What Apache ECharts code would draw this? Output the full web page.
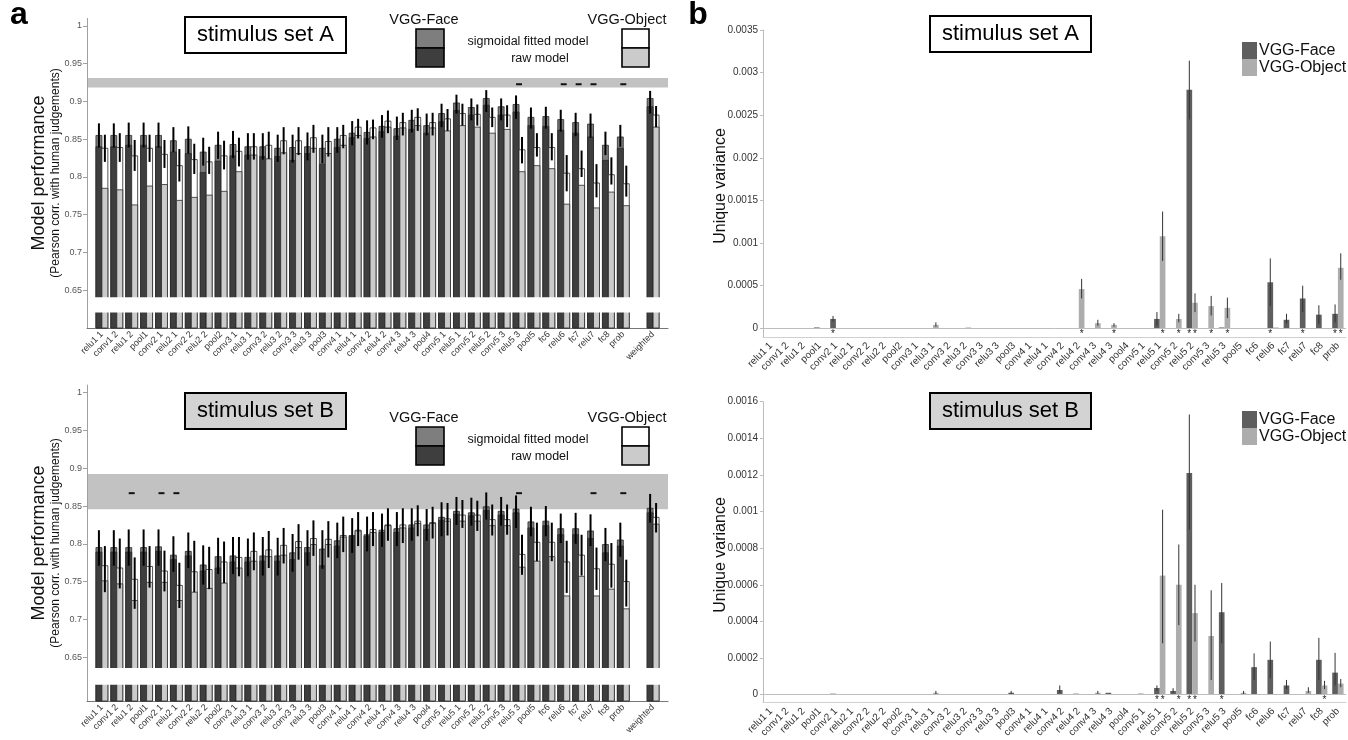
<!DOCTYPE html>
<html><head><meta charset="utf-8">
<script src="https://cdn.jsdelivr.net/npm/echarts@6/dist/echarts.min.js"></script>
<style>html,body{margin:0;padding:0;background:#fff}#c{width:1348px;height:740px}</style>
</head><body><div id="c"></div>
<script>
const N = null;
const layers = ['relu1 1','conv1 2','relu1 2','pool1','conv2 1','relu2 1','conv2 2','relu2 2','pool2','conv3 1','relu3 1','conv3 2','relu3 2','conv3 3','relu3 3','pool3','conv4 1','relu4 1','conv4 2','relu4 2','conv4 3','relu4 3','pool4','conv5 1','relu5 1','conv5 2','relu5 2','conv5 3','relu5 3','pool5','fc6','relu6','fc7','relu7','fc8','prob'];
const perfCategories = layers.concat(['', 'weighted']);
const perfTicks = [0.65, 0.7, 0.75, 0.8, 0.85, 0.9, 0.95, 1];
const uvTicksA = [0, 0.0005, 0.001, 0.0015, 0.002, 0.0025, 0.003, 0.0035];
const uvTicksB = [0, 0.0002, 0.0004, 0.0006, 0.0008, 0.001, 0.0012, 0.0014, 0.0016];

// ---- panel a, stimulus set A (model performance) ----
const faceFitA = [0.855,0.855,0.855,0.855,0.855, 0.848,0.850,0.833,0.842,0.843, 0.840,0.840,0.838,0.839,0.840, 0.838,0.850,0.858,0.859,0.867, 0.864,0.875,0.868,0.884,0.898, 0.892,0.904,0.893,0.896,0.879, 0.880,0.876,0.872,0.870,0.842, 0.853,N,0.904];
const faceRawA = [0.840,0.840,0.842,0.842,0.840, 0.833,0.831,0.806,0.821,0.828, 0.829,0.827,0.827,0.822,0.831, 0.817,0.839,0.852,0.851,0.860, 0.854,0.863,0.858,0.873,0.888, 0.882,0.895,0.882,0.886,0.868, 0.867,0.862,0.858,0.853,0.822, 0.838,N,0.893];
const faceLoA  = [0.839,0.839,0.839,0.839,0.839, 0.833,0.831,0.815,0.824,0.825, 0.823,0.823,0.820,0.819,0.822, 0.818,0.832,0.842,0.843,0.852, 0.849,0.859,0.855,0.866,0.884, 0.875,0.886,0.875,0.877,0.864, 0.864,0.860,0.854,0.852,0.829, 0.840,N,0.884];
const faceHiA  = [0.871,0.871,0.872,0.872,0.872, 0.866,0.867,0.852,0.860,0.861, 0.858,0.858,0.856,0.856,0.859, 0.856,0.866,0.874,0.875,0.882, 0.880,0.889,0.884,0.897,0.909, 0.904,0.915,0.904,0.908,0.892, 0.893,0.889,0.885,0.884,0.860, 0.869,N,0.914];
const objFitA  = [0.838,0.839,0.828,0.838,0.830, 0.815,0.823,0.820,0.828,0.834, 0.840,0.842,0.848,0.848,0.852, 0.847,0.855,0.866,0.865,0.874, 0.872,0.879,0.872,0.877,0.884, 0.883,0.879,0.882,0.836,0.839, 0.839,0.805,0.811,0.792,0.803, 0.791,N,0.882];
const objRawA  = [0.785,0.783,0.763,0.788,0.790, 0.769,0.773,0.776,0.781,0.807, 0.829,0.824,0.832,0.831,0.838, 0.831,0.842,0.855,0.853,0.866, 0.865,0.868,0.865,0.861,0.868, 0.866,0.858,0.863,0.807,0.815, 0.811,0.764,0.789,0.759,0.780, 0.762,N,0.866];
const objLoA   = [0.820,0.820,0.808,0.820,0.812, 0.794,0.804,0.804,0.810,0.814, 0.823,0.824,0.830,0.829,0.832, 0.827,0.838,0.851,0.850,0.858, 0.855,0.861,0.855,0.861,0.868, 0.868,0.866,0.866,0.818,0.827, 0.822,0.781,0.800,0.773,0.790, 0.774,N,0.866];
const objHiA   = [0.856,0.858,0.849,0.856,0.849, 0.837,0.844,0.840,0.848,0.852, 0.858,0.860,0.866,0.866,0.869, 0.866,0.869,0.877,0.876,0.888, 0.885,0.891,0.885,0.890,0.897, 0.896,0.892,0.895,0.853,0.858, 0.858,0.829,0.835,0.817,0.826, 0.815,N,0.894];
const ceilingA = [0.9185, 0.931];
const dashIdxA = [28, 31, 32, 33, 35];
const dashValA = 0.9228;

// ---- panel a, stimulus set B ----
const faceFitB = [0.795,0.795,0.795,0.795,0.796, 0.785,0.790,0.772,0.783,0.784, 0.782,0.784,0.784,0.788,0.795, 0.793,0.804,0.811,0.812,0.818, 0.820,0.825,0.825,0.835,0.843, 0.841,0.849,0.843,0.846,0.829, 0.830,0.820,0.820,0.817,0.799, 0.805,N,0.847];
const faceRawB = [0.789,0.789,0.789,0.789,0.790, 0.779,0.784,0.764,0.768,0.776, 0.776,0.777,0.777,0.779,0.788, 0.771,0.797,0.810,0.810,0.815, 0.815,0.821,0.819,0.831,0.839, 0.837,0.844,0.838,0.841,0.821, 0.824,0.812,0.812,0.807,0.788, 0.797,N,0.841];
const faceLoB  = [0.771,0.771,0.771,0.771,0.771, 0.763,0.768,0.746,0.760,0.760, 0.757,0.758,0.758,0.763,0.771, 0.767,0.781,0.788,0.790,0.796, 0.797,0.804,0.804,0.810,0.825, 0.824,0.832,0.824,0.821,0.810, 0.810,0.801,0.800,0.797,0.777, 0.783,N,0.828];
const faceHiB  = [0.818,0.818,0.819,0.819,0.819, 0.810,0.815,0.798,0.808,0.809, 0.807,0.809,0.808,0.813,0.818, 0.818,0.828,0.834,0.836,0.840, 0.842,0.847,0.846,0.855,0.862, 0.861,0.868,0.862,0.864,0.849, 0.850,0.840,0.841,0.839,0.821, 0.828,N,0.866];
const objFitB  = [0.771,0.768,0.753,0.770,0.764, 0.745,0.763,0.766,0.776,0.782, 0.790,0.792,0.798,0.803,0.807, 0.806,0.811,0.818,0.819,0.825, 0.825,0.830,0.828,0.833,0.838, 0.838,0.832,0.832,0.786,0.802, 0.802,0.776,0.785,0.767,0.773, 0.750,N,0.835];
const objRawB  = [0.751,0.747,0.725,0.749,0.749, 0.725,0.736,0.741,0.748,0.768, 0.777,0.783,0.785,0.795,0.799, 0.799,0.809,0.817,0.815,0.824, 0.821,0.827,0.827,0.830,0.830, 0.830,0.824,0.824,0.769,0.777, 0.783,0.731,0.757,0.731,0.740, 0.714,N,0.826];
const objLoB   = [0.736,0.741,0.714,0.742,0.737, 0.715,0.736,0.740,0.748,0.757, 0.765,0.768,0.774,0.779,0.784, 0.782,0.789,0.797,0.797,0.804, 0.801,0.810,0.807,0.811,0.821, 0.817,0.811,0.812,0.759,0.777, 0.777,0.735,0.758,0.739,0.742, 0.717,N,0.815];
const objHiB   = [0.797,0.807,0.782,0.797,0.791, 0.775,0.804,0.796,0.803,0.809, 0.815,0.817,0.821,0.826,0.831, 0.830,0.836,0.842,0.842,0.847, 0.847,0.851,0.849,0.854,0.858, 0.857,0.852,0.852,0.812,0.828, 0.828,0.804,0.812,0.795,0.801, 0.779,N,0.854];
const ceilingB = [0.8457, 0.8925];
const dashIdxB = [2, 4, 5, 28, 33, 35];
const dashValB = 0.867;

// ---- panel b, unique variance, set A ----
const faceUvA = [0,0,0,0.00001,0.00011, 0,0,0,0,0, 0,0,0,0,0, 0,0,0,0,0, 0,0,0,0,0.00011, 0,0.0028,0,0.00001,0, 0,0.00054,0.0001,0.00035,0.00016, 0.00017];
const faceUvLoA = [N,N,N,N,0.00008, N,N,N,N,N, N,N,N,N,N, N,N,N,N,N, N,N,N,N,0.00003, N,0.00245,N,N,N, N,0.00026,0.00006,0.00019,0.00005, 0.00007];
const faceUvHiA = [N,N,N,N,0.000145, N,N,N,N,N, N,N,N,N,N, N,N,N,N,N, N,N,N,N,0.00019, N,0.00314,N,N,N, N,0.00082,0.00017,0.0005,0.00027, 0.00028];
const objUvA = [0,0,0,0,0, 0,0,0,0,0, 0.00004,0,0.00001,0,0, 0,0,0,0,0.00046, 0.00006,0.00004,0,0,0.00108, 0.00011,0.0003,0.00026,0.00024,0, 0,0.00001,0,0,0, 0.00071];
const objUvLoA = [N,N,N,N,N, N,N,N,N,N, 0.00002,N,N,N,N, N,N,N,N,0.00035, 0.00003,0.00002,N,N,0.00079, 0.00007,0.00019,0.00015,0.00012,N, N,N,N,N,N, 0.00057];
const objUvHiA = [N,N,N,N,N, N,N,N,N,N, 0.00007,N,N,N,N, N,N,N,N,0.00058, 0.0001,0.00006,N,N,0.00137, 0.00017,0.00041,0.00038,0.00036,N, N,N,N,N,N, 0.00088];
const faceStarsA = [4, 26, 31, 33, 35];
const objStarsA = [19, 21, 24, 25, 26, 27, 28, 35];

// ---- panel b, unique variance, set B ----
const faceUvB = [0,0,0,0,0.000005, 0,0,0,0,0, 0,0,0,0,0, 0.00001,0,0,0.000025,0.000005, 0,0.00001,0,0.000005,0.000036, 0.00002,0.00121,0,0.00045,0, 0.00015,0.00019,0.00005,0,0.00019, 0.00012];
const faceUvLoB = [N,N,N,N,N, N,N,N,N,N, N,N,N,N,N, 0,N,N,0.00001,N, N,N,N,N,0.00002, 0.00001,0.0009,N,0.00028,N, 0.00008,0.00009,0.00003,N,0.00008, 0.00005];
const faceUvHiB = [N,N,N,N,N, N,N,N,N,N, N,N,N,N,N, 0.00002,N,N,0.00005,N, N,N,N,N,0.00005, 0.000035,0.00153,N,0.00061,N, 0.000225,0.00029,0.00008,N,0.00031, 0.000228];
const objUvB = [0,0,0,0,0, 0,0,0,0,0, 0.00001,0,0,0,0, 0,0,0,0,0, 0.00001,0,0,0,0.00065, 0.0006,0.000445,0.00032,0,0.00001, 0.000003,0,0,0.00002,0.00005, 0.00006];
const objUvLoB = [N,N,N,N,N, N,N,N,N,N, 0,N,N,N,N, N,N,N,N,N, 0,N,N,N,0.00028, 0.00038,0.00029,0.00008,N,0, N,N,N,0.00001,0.00003, 0.00004];
const objUvHiB = [N,N,N,N,N, N,N,N,N,N, 0.00002,N,N,N,N, N,N,N,N,N, 0.00002,N,N,N,0.00101, 0.00082,0.0006,0.00057,N,0.00002, N,N,N,0.00004,0.000075, 0.000085];
const faceStarsB = [24, 26, 28];
const objStarsB = [24, 25, 26, 34];

const FONT = '"Liberation Sans", Arial, sans-serif';
const C_FACE_FIT = '#7e7e7e', C_FACE_RAW = '#3e3e3e', C_OBJ_FIT = '#ffffff', C_OBJ_RAW = '#cbcbcb';
const C_UV_FACE = '#5e5e5e', C_UV_OBJ = '#adadad';

function perfData(fit, raw, lo, hi) {
  const out = [];
  fit.forEach((v, i) => { if (v != null) out.push([i, v, raw[i], lo[i], hi[i]]); });
  return out;
}
function perfBarRender(side, fitColor, rawColor) {
  return function (params, api) {
    const i = api.value(0), fit = api.value(1), raw = api.value(2), lo = api.value(3), hi = api.value(4);
    const cs = params.coordSys;
    const base = cs.y + cs.height;
    const w = api.size([1, 0])[0] * 0.4;
    const xc = api.coord([i + side * 0.2, fit])[0];
    const yFit = api.coord([i, fit])[1], yRaw = api.coord([i, raw])[1];
    const yLo = api.coord([i, lo])[1], yHi = api.coord([i, hi])[1];
    return { type: 'group', children: [
      { type: 'rect', shape: { x: xc - w / 2, y: yFit, width: w, height: base - yFit }, style: { fill: fitColor, stroke: '#2a2a2a', lineWidth: 0.8 } },
      { type: 'rect', shape: { x: xc - w / 2, y: yRaw, width: w, height: base - yRaw }, style: { fill: rawColor, stroke: '#2a2a2a', lineWidth: 0.8 } },
      { type: 'line', shape: { x1: xc, y1: yLo, x2: xc, y2: yHi }, style: { stroke: '#000', lineWidth: 2 } }
    ] };
  };
}
function hBandRender(lo, hi, fill, inset) {
  return function (params, api) {
    const cs = params.coordSys;
    const y1 = api.coord([0, hi])[1], y2 = api.coord([0, lo])[1];
    return { type: 'rect', shape: { x: cs.x + inset, y: y1, width: cs.width - inset, height: y2 - y1 }, style: { fill: fill } };
  };
}
function dashRender(params, api) {
  const i = api.value(0), v = api.value(1);
  const p1 = api.coord([i - 0.2, v]), p2 = api.coord([i + 0.2, v]);
  return { type: 'line', shape: { x1: p1[0], y1: p1[1], x2: p2[0], y2: p2[1] }, style: { stroke: '#111', lineWidth: 2 } };
}
function uvErrData(loF, hiF, loO, hiO) {
  const out = [];
  loF.forEach((v, i) => { if (v != null) out.push([i, v, hiF[i], -1]); });
  loO.forEach((v, i) => { if (v != null) out.push([i, v, hiO[i], 1]); });
  return out;
}
function uvErrRender(params, api) {
  const i = api.value(0), lo = api.value(1), hi = api.value(2), side = api.value(3);
  const band = api.size([1, 0])[0];
  const x = api.coord([i, lo])[0] + side * band * 0.175;
  return { type: 'line', shape: { x1: x, y1: api.coord([i, lo])[1], x2: x, y2: api.coord([i, hi])[1] }, style: { stroke: '#333', lineWidth: 1 } };
}
function starData(f, o) { return f.map(i => [i, 0, -1]).concat(o.map(i => [i, 0, 1])); }
function starRender(params, api) {
  const i = api.value(0), side = api.value(2);
  const band = api.size([1, 0])[0];
  const p = api.coord([i, 0]);
  return { type: 'text', x: p[0] + side * band * 0.175, y: p[1] + 1,
    style: { text: '*', fontSize: 10, fontFamily: FONT, fill: '#222', align: 'center', textAlign: 'center', verticalAlign: 'top', textVerticalAlign: 'top' } };
}

function perfX(g) {
  return { type: 'value', gridIndex: g, min: -1, max: 38, interval: 1,
    axisLine: { show: true, onZero: false, lineStyle: { color: '#777', width: 1 } },
    axisTick: { show: false }, splitLine: { show: false },
    axisLabel: { rotate: 45, fontSize: 9, color: '#333', margin: 5, fontFamily: FONT,
      formatter: v => perfCategories[Math.round(v)] || '' } };
}
function perfY(g, min) {
  return { type: 'value', gridIndex: g, min: min, max: 1.01,
    axisLine: { show: true, onZero: false, lineStyle: { color: '#a0a0a0' } },
    axisTick: { show: true, length: 4, customValues: perfTicks, lineStyle: { color: '#a0a0a0' } },
    axisLabel: { customValues: perfTicks, fontSize: 9, color: '#555', margin: 5, fontFamily: FONT, formatter: v => String(v) },
    splitLine: { show: false } };
}
function uvX(g) {
  return { type: 'category', gridIndex: g, data: layers,
    axisLine: { show: true, onZero: false, lineStyle: { color: '#cfcfcf' } },
    axisTick: { show: false }, splitLine: { show: false },
    axisLabel: { interval: 0, rotate: 45, fontSize: 10, color: '#333', margin: 7, fontFamily: FONT } };
}
function uvY(g, min, max, ticks) {
  return { type: 'value', gridIndex: g, min: min, max: max,
    axisLine: { show: true, onZero: false, lineStyle: { color: '#bdbdbd' } },
    axisTick: { show: true, length: 3, customValues: ticks, lineStyle: { color: '#bdbdbd' } },
    axisLabel: { customValues: ticks, fontSize: 10, color: '#333', margin: 5, fontFamily: FONT, formatter: v => String(v) },
    splitLine: { show: false } };
}

function perfSeries(g, fF, fR, fL, fH, oF, oR, oL, oH, ceiling, dashIdx, dashVal, gap) {
  return [
    { type: 'custom', xAxisIndex: g, yAxisIndex: g, z: 1, silent: true, data: [[0, (ceiling[0] + ceiling[1]) / 2]], renderItem: hBandRender(ceiling[0], ceiling[1], '#c2c2c2', 1) },
    { type: 'custom', name: 'VGG-Face perf', xAxisIndex: g, yAxisIndex: g, z: 2, silent: true, data: perfData(fF, fR, fL, fH), renderItem: perfBarRender(-1, C_FACE_FIT, C_FACE_RAW) },
    { type: 'custom', name: 'VGG-Object perf', xAxisIndex: g, yAxisIndex: g, z: 2, silent: true, data: perfData(oF, oR, oL, oH), renderItem: perfBarRender(1, C_OBJ_FIT, C_OBJ_RAW) },
    { type: 'custom', xAxisIndex: g, yAxisIndex: g, z: 3, silent: true, data: [[0, (gap[0] + gap[1]) / 2]], renderItem: hBandRender(gap[0], gap[1], '#ffffff', 1) },
    { type: 'custom', xAxisIndex: g, yAxisIndex: g, z: 4, silent: true, data: dashIdx.map(i => [i, dashVal]), renderItem: dashRender }
  ];
}
function uvSeries(g, fUv, oUv, fLo, fHi, oLo, oHi, fStars, oStars) {
  return [
    { type: 'bar', name: 'VGG-Face', xAxisIndex: g, yAxisIndex: g, data: fUv, barGap: '0%', barCategoryGap: '30%',
      itemStyle: { color: C_UV_FACE }, silent: true,
      markLine: { silent: true, symbol: 'none', label: { show: false }, lineStyle: { color: '#bdbdbd', width: 1, type: 'solid' }, data: [{ yAxis: 0 }] } },
    { type: 'bar', name: 'VGG-Object', xAxisIndex: g, yAxisIndex: g, data: oUv, barGap: '0%', barCategoryGap: '30%',
      itemStyle: { color: C_UV_OBJ }, silent: true },
    { type: 'custom', xAxisIndex: g, yAxisIndex: g, z: 3, silent: true, data: uvErrData(fLo, fHi, oLo, oHi), renderItem: uvErrRender },
    { type: 'custom', xAxisIndex: g, yAxisIndex: g, z: 3, silent: true, data: starData(fStars, oStars), renderItem: starRender }
  ];
}

function txt(x, y, text, size, extra) {
  return Object.assign({ type: 'text', x: x, y: y, silent: true,
    style: { text: text, fontSize: size, fontFamily: FONT, fill: '#111', align: 'center', textAlign: 'center', verticalAlign: 'middle', textVerticalAlign: 'middle' } }, extra || {});
}
function boldTxt(x, y, text) {
  return { type: 'text', x: x, y: y, silent: true,
    style: { text: text, fontSize: 32, fontWeight: 'bold', fontFamily: FONT, fill: '#000', align: 'center', textAlign: 'center', verticalAlign: 'middle', textVerticalAlign: 'middle' } };
}
function boxRect(x, y, w, h, fill) {
  return { type: 'rect', silent: true, shape: { x: x, y: y, width: w, height: h }, style: { fill: fill, stroke: '#000', lineWidth: 1.6 } };
}
function perfLegend(dy) {
  return [
    txt(424, 20 + dy, 'VGG-Face', 14.5),
    boxRect(416, 29 + dy, 28, 19, C_FACE_FIT),
    boxRect(416, 48 + dy, 28, 19, C_FACE_RAW),
    txt(528, 42 + dy, 'sigmoidal fitted model', 12.5),
    txt(540, 59 + dy, 'raw model', 12.5),
    txt(627, 20 + dy, 'VGG-Object', 14.5),
    boxRect(622, 29 + dy, 27, 19, C_OBJ_FIT),
    boxRect(622, 48 + dy, 27, 19, C_OBJ_RAW)
  ];
}

const titleBox = (text, left, top, bg) => ({ text: text, left: left, top: top, padding: [7, 12, 7, 12],
  backgroundColor: bg, borderColor: '#000', borderWidth: 2,
  textStyle: { fontSize: 22, fontWeight: 'normal', color: '#000', fontFamily: FONT } });
const uvLegend = (top) => ({ left: 1237, top: top, orient: 'vertical', icon: 'rect', itemWidth: 15, itemHeight: 17, itemGap: 0,
  selectedMode: false, data: ['VGG-Face', 'VGG-Object'],
  textStyle: { fontSize: 16, color: '#111', fontFamily: FONT, padding: [0, 0, 0, -3] } });

const option = {
  animation: false,
  backgroundColor: '#fff',
  textStyle: { fontFamily: FONT },
  title: [
    titleBox('stimulus set A', 185, 17, '#ffffff'),
    titleBox('stimulus set B', 185, 393, '#d3d3d3'),
    titleBox('stimulus set A', 930, 16, '#ffffff'),
    titleBox('stimulus set B', 930, 393, '#d3d3d3')
  ],
  legend: [uvLegend(37), uvLegend(406)],
  grid: [
    { left: 87, top: 18.4, width: 581, height: 309.6 },
    { left: 87, top: 385.1, width: 581, height: 315.9 },
    { left: 763, top: 30, width: 583, height: 307 },
    { left: 763, top: 401.7, width: 583, height: 301.3 }
  ],
  xAxis: [perfX(0), perfX(1), uvX(2), uvX(3)],
  yAxis: [perfY(0, 0.6), perfY(1, 0.592), uvY(2, -0.000102, 0.0035, uvTicksA), uvY(3, -0.0000436, 0.0016, uvTicksB)],
  series: [].concat(
    perfSeries(0, faceFitA, faceRawA, faceLoA, faceHiA, objFitA, objRawA, objLoA, objHiA, ceilingA, dashIdxA, dashValA, [0.6205, 0.6408]),
    perfSeries(1, faceFitB, faceRawB, faceLoB, faceHiB, objFitB, objRawB, objLoB, objHiB, ceilingB, dashIdxB, dashValB, [0.6135, 0.6358]),
    uvSeries(2, faceUvA, objUvA, faceUvLoA, faceUvHiA, objUvLoA, objUvHiA, faceStarsA, objStarsA),
    uvSeries(3, faceUvB, objUvB, faceUvLoB, faceUvHiB, objUvLoB, objUvHiB, faceStarsB, objStarsB)
  ),
  graphic: [].concat(
    [
      boldTxt(19, 15, 'a'),
      boldTxt(698, 15, 'b'),
      txt(39, 173, 'Model performance', 18, { rotation: Math.PI / 2 }),
      txt(56, 173, '(Pearson corr. with human judgements)', 12, { rotation: Math.PI / 2 }),
      txt(39, 543, 'Model performance', 18, { rotation: Math.PI / 2 }),
      txt(56, 543, '(Pearson corr. with human judgements)', 12, { rotation: Math.PI / 2 }),
      txt(721, 186, 'Unique variance', 16, { rotation: Math.PI / 2 }),
      txt(721, 555, 'Unique variance', 16, { rotation: Math.PI / 2 })
    ],
    perfLegend(0),
    perfLegend(398)
  )
};

const chart = echarts.init(document.getElementById('c'), null, { renderer: 'canvas' });
chart.setOption(option);
</script>
</body></html>
